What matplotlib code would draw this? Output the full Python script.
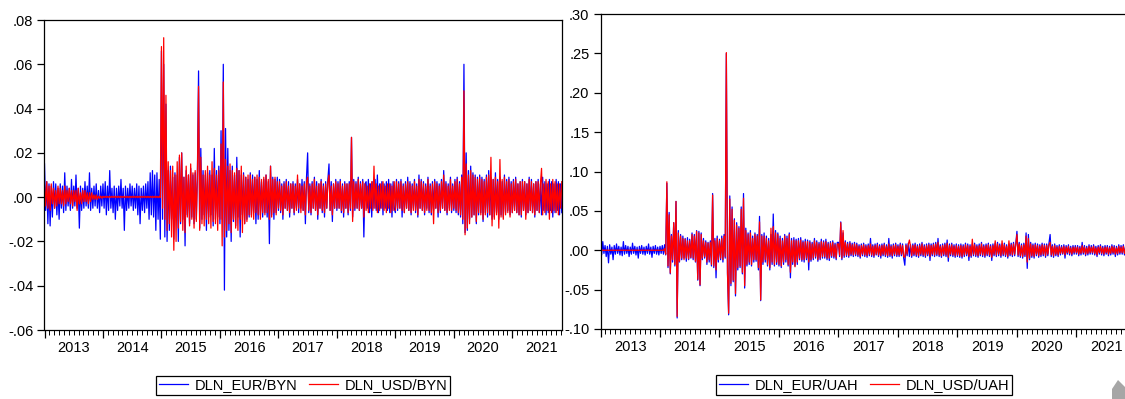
import numpy as np
import matplotlib
matplotlib.use("Agg")
from matplotlib import pyplot as plt
from matplotlib.ticker import FuncFormatter, MultipleLocator, FixedLocator
from matplotlib.patches import Polygon

plt.rcParams['font.family'] = ['Liberation Sans', 'DejaVu Sans']

# weekly readings in units of 0.001; "YYYY:" starts a year
EUR_BYN = """
2013: 15 -6 7 -12 6 -13 5 -9 7 -5 6 -8 4   -10 6 -5 5 -7 11 -6 5 -4 4 -6 8 -5
      5 -4 10 -5 4 -14 5 -6 4 -5 7 -4 5   -5 11 -6 4 -5 5 -4 6 -5 3 -7 5 -4
2014: 6 -5 7 -8 5 -6 12 -5 4 -7 5 -10 4   -6 5 -4 8 -5 4 -15 5 -6 4 -5 6 -4
      5 -6 4 -5 6 -8 5 -12 4 -6 5 -7 6   -5 7 -10 11 -8 12 -9 10 -15 11 -10 8 -19
2015: 66 -10 60 -18 42 -20 12 -15 14 -10 9 -19 11   -9 10 -20 18 -12 20 -10 9 -22 12 -8 10 -12
      13 -9 10 -12 11 -10 12 57 -14 22 -10 12 -8   10 -15 11 -9 12 -8 10 -13 22 -10 12 -9 14
2016: -12 30 -10 60 -42 31 -18 22 -15 12 -20 14 -11   10 -13 18 -9 12 -18 10 -8 11 -12 9 -10 8
      -9 11 -8 10 -7 9 -12 8 -10 12 -8 7 -9   8 -7 10 -9 7 -21 14 -8 9 -10 8 -7 9
2017: -6 8 -7 6 -10 7 -5 8 -6 7 -9 6 -5   7 -8 6 -5 8 -7 6 -5 8 -6 7 -12 9
      20 -7 6 -8 7 -5 9 -6 7 -10 6 -5 8   -7 6 -9 7 -5 8 15 -6 7 -11 6 -5 8
2018: -6 7 -5 8 -7 6 -9 7 -5 6 -8 7 -6   27 -9 8 -6 7 -5 9 -6 7 -5 8 -18 6
      7 -5 8 -7 6 -9 7 -5 8 -6 10 -7 6   -5 7 -8 6 -5 7 -6 8 -7 6 -9 7 -5
2019: -7 8 -6 7 -5 8 -9 6 -7 7 -5 9 -6   7 -8 6 -5 8 -7 6 -9 10 -5 8 -6 7
      -8 6 -5 9 -7 6 -8 7 -6 8 -5 7 -9   6 -7 8 -5 12 -6 7 -8 6 -5 9 -7 6
2020: -6 8 -7 9 -8 7 -9 10 -12 60 -16 20 -15   12 -10 14 -9 11 -8 10 -12 9 -8 10 -7 9
      -11 8 -7 10 -9 12 -8 9 -10 8 -9 11 -7   8 -10 9 -8 7 -9 10 -7 8 -6 9 -8 7
2021: -7 8 -6 9 -7 6 -8 7 -9 8 -6 7 -8   6 -7 9 -6 8 -7 6 -9 7 -6 8 -7 6
      -8 9 -6 7 -8 6 -7 8 -6 7 -9 6 -7   8 -6 7 -8 6 -7
"""

USD_BYN = """
2013: 6 -4 7 -5 5 -6 6 -3 4 -5 3 -4 5   -3 4 -3 3 -4 5 -3 3 -2 4 -3 3 -4
      3 -2 3 -6 4 -3 2 -3 3 -2 3 -2 2   -3 2 -2 2 -1 1 -1 1 -1 0.5 -0.5 0.5 -0.5
2014: 0.4 -0.2 0.4 -0.2 0.4 -0.2 0.4 -0.2 0.4 -0.2 0.4 -0.2 0.4   -0.2 0.4 -0.2 0.4 -0.2 0.4 -0.2 0.4 -0.2 0.4 -0.2 0.4 -0.2
      0.4 -0.2 0.4 -0.2 0.4 -0.2 0.4 -0.2 0.4 -0.2 0.4 -0.2 0.4   -0.2 0.4 -0.2 0.4 -0.2 0.4 -0.2 0.4 -0.2 0.4 -0.2 0.4 -0.2
2015: 68 -5 72 -10 46 -15 16 -12 12 -18 14 -24 10   -20 16 -14 19 -11 20 -15 9 -16 14 -9 10 -13
      15 -10 11 -14 12 -11 10 50 -15 18 -12 10 -13   12 -10 14 -12 10 -14 16 -11 13 -12 10 -15 12
2016: -10 24 -22 52 -18 17 -15 14 -12 15 -16 12 -10   11 -14 13 -15 12 -10 14 -16 10 -12 9 -11 10
      -8 10 -9 8 -10 9 -7 10 -8 9 -10 8 -7   9 -8 10 -7 8 -10 14 -9 8 -7 9 -8 7
2017: -5 7 -6 5 -8 6 -5 7 -6 5 -7 6 -5   6 -7 5 -6 10 -5 6 -7 5 -6 6 -8 7
      9 -6 5 -7 6 -5 8 -6 5 -8 6 -5 7   -6 5 -7 6 -5 7 10 -6 5 -8 6 -5 7
2018: -5 6 -5 7 -6 5 -7 6 -5 6 -7 6 -5   27 -11 7 -5 6 -5 8 -6 6 -5 7 -9 6
      -6 5 -7 6 -5 7 -6 14 -5 6 -7 5 -6   6 -5 7 -6 5 -7 6 -5 6 -7 5 -6 7
2019: -6 7 -5 6 -5 7 -6 5 -7 6 -5 7 -6   6 -7 5 -6 7 -6 5 -8 8 -5 7 -6 6
      -7 5 -6 8 -6 5 -7 6 -12 7 -5 6 -7   5 -6 7 -5 10 -6 6 -7 5 -6 8 -6 5
2020: -5 7 -6 8 -7 6 -8 9 -10 48 -17 15 -14   10 -12 12 -9 10 -8 9 -11 8 -7 9 -8 8
      -10 7 -8 9 -7 10 -8 18 -13 8 -10 9 -8   7 -14 17 -9 8 -10 9 -8 7 -7 8 -9 6
2021: -7 7 -6 8 -7 6 -8 7 -8 7 -6 7 -10   6 -7 8 -6 7 -7 6 -8 7 -6 7 -7 6
      13 -8 6 -7 8 -6 7 -10 6 -7 8 -6 7   -7 6 -8 6 -5 7
"""

EUR_UAH = """
2013: 5 -6 11 -4 6 -8 5 -16 7 -5 4 -12 6   -5 8 -4 5 -6 4 -7 11 -5 6 -4 5 -8
      4 -5 9 -4 5 -6 4 -10 5 -4 6 -5 4   -6 5 -4 8 -5 4 -9 5 -4 6 -5 4 -6
2014: 5 -4 6 -5 7 -6 85 -22 48 -30 20 -15 35   -20 62 -86 25 -15 20 -12 18 -10 15 -14 16 -12
      14 -10 22 -12 20 -15 25 -38 24 -45 22 -12 15   -10 12 -18 10 -15 12 -20 72 -22 15 -35 18 -15
2015: 14 -12 18 -15 20 -10 250 -30 -82 69 -45 55 -40   40 -58 35 -25 30 -22 55 -30 72 -48 28 -20 22
      -18 25 -20 18 -15 22 -14 20 -25 43 -64 20 -18   22 -15 18 -20 15 -25 20 -18 46 -20 25 -18 22
2016: -20 18 -22 15 -18 20 -15 18 -20 22 -35 15 -18   16 -20 14 -18 15 -12 16 -14 12 -15 14 -12 13
      -25 12 -14 10 -12 15 -10 12 -14 10 -12 14 -10   12 -10 14 -12 10 -13 11 -9 12 -10 9 -12 10
2017: 10 -8 36 -12 22 -9 12 -8 10 -9 11 -7 9   -8 10 -7 9 -8 7 -10 8 -7 9 -8 7 -9
      8 -7 15 -8 7 -9 8 -6 9 -8 7 -10 8   -7 9 -8 7 -9 15 -8 7 -10 8 -7 9 -8
2018: 7 -8 9 -7 8 -10 -19 8 -7 9 -8 7 -9   8 -7 9 -8 7 -9 8 -7 10 -8 7 -9 8
      -7 9 -13 8 -7 9 -8 10 -7 15 -8 7 -9   8 -7 9 -8 13 -14 8 -7 9 -8 7 -9 8
2019: -8 7 -9 8 -10 7 -8 9 -7 8 -13 7 -9   8 -7 9 -8 7 -9 8 -7 10 -8 7 -9 8
      -7 9 -8 7 -13 8 -7 9 -8 10 -7 8 -9   8 -7 9 -8 7 -10 8 -7 9 -8 10 -7 9
2020: 24 -8 10 -9 8 -10 9 -8 22 -23 20 -12 10   -9 8 -10 9 -7 8 -9 7 -8 9 -7 8 -9
      8 -7 9 20 -8 7 -9 8 -7 6 -8 7 -6   6 -5 7 -10 6 -5 7 -6 5 -7 6 -5 6
2021: -5 6 -7 5 -6 10 -5 6 -7 5 -6 7 -5   6 -5 7 -6 5 -8 6 -5 7 -6 5 -7 6
      -5 6 -7 5 -6 7 -5 6 -8 5 -6 7 -5   6 -5 7 -6 5 -6
"""

USD_UAH = """
2013: 0.3 -0.3 0.3 -0.3 0.3 -0.3 0.3 -0.3 0.3 -0.3 0.3 -0.3 0.3   -0.3 0.3 -0.3 0.3 -0.3 0.3 -0.3 0.3 -0.3 0.3 -0.3 0.3 -0.3
      0.3 -0.3 0.3 -0.3 0.3 -0.3 0.3 -0.3 0.3 -0.3 0.3 -0.3 0.3   -0.3 0.3 -0.3 0.3 -0.3 0.3 -0.3 0.3 -0.3 0.3 -0.3 0.3 -0.3
2014: 0.3 -0.3 0.3 -0.3 2 -5 87 -20 45 -29 18 -12 35   -18 62 -84 22 -14 18 -10 15 -12 14 -10 12 -11
      12 -9 20 -10 18 -14 24 -37 22 -44 20 -10 12   -8 10 -15 9 -12 10 -18 70 -20 12 -25 15 -12
2015: 12 -10 15 -12 18 -8 251 -28 -80 65 -42 52 -38   38 -55 32 -22 28 -20 52 -28 66 -45 25 -18 20
      -15 22 -18 15 -12 20 -12 18 -22 36 -63 18 -15   18 -12 15 -18 12 -22 28 -15 30 -18 22 -15 20
2016: -18 15 -20 12 -15 18 -12 15 -18 20 -28 12 -15   13 -21 12 -15 12 -10 13 -12 10 -12 11 -10 11
      -15 10 -12 8 -10 12 -8 10 -12 8 -10 11 -8   10 -8 11 -10 8 -10 9 -7 10 -8 7 -10 8
2017: 8 -6 35 -10 25 -7 10 -6 8 -7 9 -5 7   -6 8 -5 7 -6 5 -8 6 -5 7 -6 5 -7
      6 -5 8 -6 5 -7 6 -5 7 -6 5 -7 6   -5 7 -6 5 -7 8 -6 5 -7 6 -5 7 -6
2018: 5 -6 7 -5 6 -8 -9 6 -5 7 13 5 -7   6 -5 7 -6 5 -7 6 -5 8 -6 5 -7 6
      -5 7 -8 6 -5 7 -6 8 -5 10 -6 5 -7   6 -5 7 -6 9 -9 6 -5 7 -6 5 -7 6
2019: -6 5 -7 6 -8 5 -6 7 -5 6 -8 5 -7   14 -5 7 -6 5 -7 6 -5 8 -6 5 -7 6
      -5 7 -6 5 -9 6 -5 12 -6 8 -5 6 -7   12 -5 7 -6 5 -8 12 -5 7 -6 8 -5 7
2020: 20 -6 8 -7 6 -8 7 -6 18 -15 15 -10 8   -7 6 -8 7 -5 6 -7 5 -6 7 -5 6 -7
      6 -5 7 10 -6 5 -7 6 -5 4 -6 5 -4   4 -4 5 -6 4 -3 5 -4 3 -5 4 -3 4
2021: -3 4 -5 3 -4 6 -3 4 -5 3 -4 5 -3   4 -3 5 -4 3 -6 4 -3 5 -4 3 -5 4
      -3 4 -5 3 -4 5 -3 4 -5 3 -4 5 -3   4 -3 5 -4 3 -4
"""

YEARS = list(range(2013, 2022))
LEFT_LABELS = ["DLN_EUR/BYN", "DLN_USD/BYN"]
RIGHT_LABELS = ["DLN_EUR/UAH", "DLN_USD/UAH"]


def parse(text):
    x, y = [], []
    year, i = None, 0
    for tok in text.split():
        if tok.endswith(":"):
            year, i = int(tok[:-1]), 0
            continue
        x.append(year + i / 52.0)
        y.append(float(tok) / 1000.0)
        i += 1
    return np.array(x), np.array(y)


def fmt(v, pos):
    s = "%.2f" % v
    s = s.replace("0.", ".", 1)
    if s == "-.00":
        s = ".00"
    return s


def setup_axis(ax, ylim, ystep):
    ax.set_xlim(2013, 2021.85)
    ax.set_ylim(*ylim)
    ax.yaxis.set_major_locator(MultipleLocator(ystep))
    ax.yaxis.set_major_formatter(FuncFormatter(fmt))
    ax.xaxis.set_major_locator(FixedLocator(YEARS))
    months = [y + m / 12.0 for y in YEARS for m in range(1, 12)]
    ax.xaxis.set_minor_locator(FixedLocator(months))
    ax.xaxis.set_major_formatter(FuncFormatter(lambda v, p: ""))
    ax.tick_params(axis='x', which='major', length=6, width=0.9, direction='out')
    ax.tick_params(axis='x', which='minor', length=3.5, width=0.7, direction='out')
    ax.tick_params(axis='y', length=5, width=0.9, pad=3, labelsize=10.5)
    for sp in ax.spines.values():
        sp.set_linewidth(0.9)
    for yr in YEARS:
        ax.annotate(str(yr), xy=(yr + 0.5, 0), xycoords=('data', 'axes fraction'),
                    xytext=(0, -11), textcoords='offset pixels',
                    ha='center', va='top', fontsize=10.5)


def plot_panel(ax, blue, red, labels, ylim, ystep):
    bx, by = parse(blue)
    rx, ry = parse(red)
    ax.plot(bx, by, color='#0000ff', lw=0.9, label=labels[0])
    ax.plot(rx, ry, color='#ff0000', lw=0.9, label=labels[1])
    setup_axis(ax, ylim, ystep)
    ax.legend(loc='upper center', bbox_to_anchor=(0.5, -0.147), ncol=2,
              fontsize=10.5, frameon=True, fancybox=False, framealpha=1,
              edgecolor='black', borderpad=0.2, borderaxespad=0, handlelength=2.0,
              handletextpad=0.45, columnspacing=0.8)
    ax.get_legend().get_frame().set_linewidth(0.9)


fig = plt.figure(figsize=(11.25, 3.99), dpi=100)
ax1 = fig.add_axes([44.5 / 1125, (399 - 330) / 399, (562 - 44.5) / 1125, 310 / 399])
ax2 = fig.add_axes([600.5 / 1125, (399 - 329) / 399, (1127 - 600.5) / 1125, 315 / 399])

plot_panel(ax1, EUR_BYN, USD_BYN, LEFT_LABELS, (-0.06, 0.08), 0.02)
plot_panel(ax2, EUR_UAH, USD_UAH, RIGHT_LABELS, (-0.10, 0.30), 0.05)

# small grey marker in the bottom right corner
fig.patches.append(Polygon([[1112 / 1125, 0.0], [1112 / 1125, 10 / 399], [1118 / 1125, 19 / 399],
                            [1125 / 1125, 12 / 399], [1125 / 1125, 0.0]],
                           closed=True, transform=fig.transFigure, facecolor='#a6a6a6',
                           edgecolor='none'))

fig.savefig("out.png", dpi=100)
